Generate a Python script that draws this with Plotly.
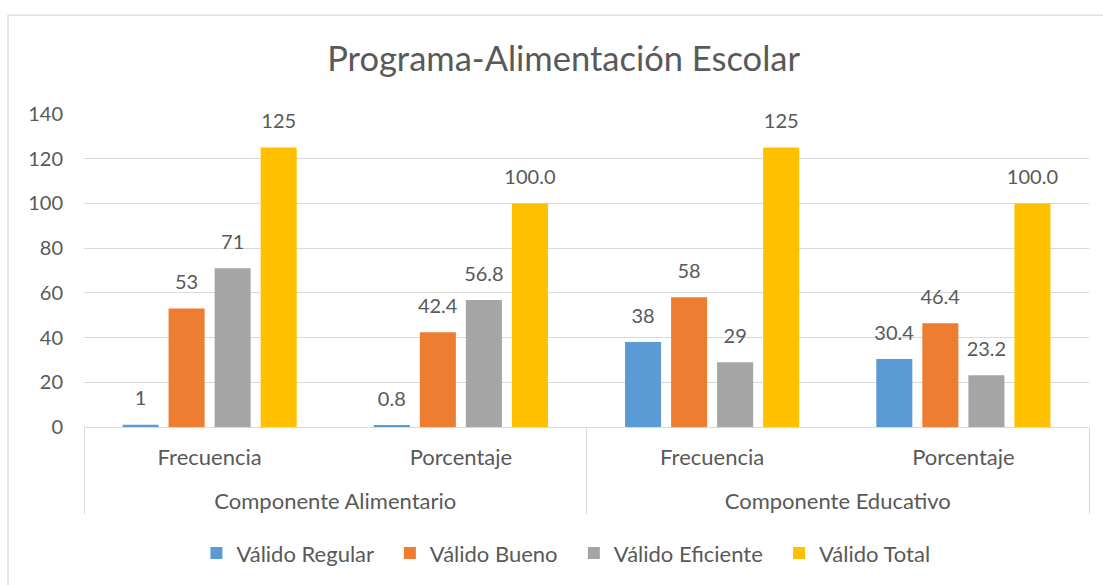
import plotly.graph_objects as go

# ---- data ----
outer_cats = ["Componente Alimentario", "Componente Alimentario", "Componente Educativo", "Componente Educativo"]
inner_cats = ["Frecuencia", "Porcentaje", "Frecuencia", "Porcentaje"]
series_names = ["Válido Regular", "Válido Bueno", "Válido Eficiente", "Válido Total"]
valido_regular = [1, 0.8, 38, 30.4]
valido_bueno = [53, 42.4, 58, 46.4]
valido_eficiente = [71, 56.8, 29, 23.2]
valido_total = [125, 100.0, 125, 100.0]
y_ticks = [0, 20, 40, 60, 80, 100, 120, 140]

series_values = [valido_regular, valido_bueno, valido_eficiente, valido_total]
colors = ["#5B9BD5", "#ED7D31", "#A5A5A5", "#FFC000"]
TXT = "#595959"
FONT = "Lato"
GRID = "#D9D9D9"


def fmt(v, cat):
    return f"{v:.0f}" if cat == "Frecuencia" else f"{v:.1f}"


def big(s, size=22):
    return f"<span style='font-size:{size}px'>{s}</span>"


# category labels for the two-level axis (spacer lines set the gap between levels)
x_outer = ["\u00a0<br>" + big(c) for c in outer_cats]
x_inner = [big(c) + "<br>" + big("\u00a0", 32) for c in inner_cats]

fig = go.Figure()
for name, vals, col in zip(series_names, series_values, colors):
    labels = [big(fmt(v, c), 20) + "<br> " for v, c in zip(vals, inner_cats)]
    fig.add_trace(go.Bar(
        name=name + "\u00a0\u00a0",
        x=[x_outer, x_inner],
        y=vals,
        marker=dict(color=col, line=dict(width=0)),
        text=labels,
        texttemplate="%{text}",
        textposition="outside",
        constraintext="none",
        textfont=dict(family=FONT, size=11, color=TXT),
        cliponaxis=False,
        hoverinfo="y+name",
    ))

fig.update_layout(
    width=1103, height=585,
    paper_bgcolor="white", plot_bgcolor="white",
    margin=dict(l=84, r=14, t=114, b=158, autoexpand=False),
    barmode="group", bargap=0.267, bargroupgap=0.217,
    font=dict(family=FONT, color=TXT, size=20),
    title=dict(text="Programa-Alimentación Escolar", x=0.511, xanchor="center",
               y=1 - 59 / 585, yanchor="middle",
               font=dict(family=FONT, size=34.5, color=TXT)),
    showlegend=True,
    legend=dict(orientation="h", x=0.485, xanchor="center",
                y=-0.403, yanchor="middle", font=dict(family=FONT, size=22, color=TXT),
                traceorder="normal"),
)

fig.update_yaxes(range=[0, 140], tickvals=y_ticks, showgrid=True, gridcolor=GRID,
                 gridwidth=1.3, zeroline=False, showline=False, ticks="", automargin=False,
                 tickfont=dict(family=FONT, size=20, color=TXT), ticklabelstandoff=20)
fig.update_xaxes(type="multicategory", showline=True, linecolor=GRID, linewidth=1.3,
                 showdividers=True, dividercolor=GRID, dividerwidth=1.3, automargin=False,
                 tickangle=0, tickfont=dict(family=FONT, size=13, color=TXT),
                 ticks="", ticklabelstandoff=21)

# outer chart-area border
fig.add_shape(type="rect", xref="paper", yref="paper", x0=-0.0756, x1=1.2, y0=-0.7, y1=1.316,
              line=dict(color=GRID, width=1.3), fillcolor="rgba(0,0,0,0)", layer="below")

fig.write_html("out.html", config={"displayModeBar": False},
               post_script="document.body.style.margin='0';")
